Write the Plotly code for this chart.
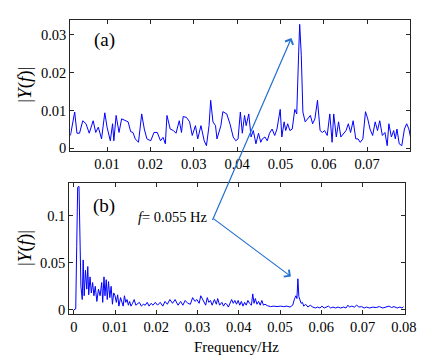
import plotly.graph_objects as go

# ---- data: panel (a) ----
top_freq = [0.00155,0.00253,0.00305,0.00365,0.0044,0.00514,0.00589,0.00679,0.00739,0.00798,
            0.00873,0.00948,0.01,0.01075,0.01127,0.01157,0.01209,0.01276,0.01336,0.01411,
            0.01486,0.01545,0.01598,0.0165,0.01725,0.01799,0.01859,0.01919,0.02008,0.02083,
            0.02158,0.02233,0.02292,0.02345,0.02382,0.02457,0.02531,0.02591,0.02666,0.02718,
            0.02755,0.0283,0.02905,0.02965,0.03039,0.03092,0.03166,0.03241,0.03293,0.03353,
            0.0339,0.03443,0.03502,
            0.03536,0.03626,0.03671,0.03761,0.03835,0.0391,0.0397,0.04022,0.04075,0.0412,
            0.04172,0.04209,0.04269,0.04322,0.04374,0.04434,0.04494,0.04546,0.04583,0.04643,
            0.04696,0.04748,0.04808,0.04868,0.0492,0.04995,0.05032,0.05085,0.05122,0.05167,
            0.05219,0.05272,0.05331,0.05376,0.05421,0.05444,0.05481,0.05518,0.05571,0.05631,
            0.0569,0.05743,0.05795,0.05855,0.05915,0.05967,0.0602,0.06079,0.06139,0.06192,
            0.06229,0.06289,0.06341,0.06394,0.06453,0.06513,0.06566,0.06618,0.06678,0.06738,
            0.0679,0.06842,0.06902,0.06962,0.07014,0.07067,0.07127,0.07186,0.07239,0.07291,
            0.07351,0.07411,0.07463,0.07501,0.0756,0.07613,0.0765,0.07688,0.0774,0.078,
            0.0786,0.07912,0.07964,0.08009]
top_amp = [0.0034,0.0096,0.004,0.004,0.0073,0.0065,0.004,0.0073,0.0042,0.0056,
           0.0025,0.0094,0.0056,0.002,0.0065,0.002,0.0087,0.0042,0.0078,0.0073,
           0.007,0.0044,0.0042,0.0025,0.0016,0.0091,0.0051,0.0025,0.002,0.0042,
           0.0042,0.002,0.0029,0.0012,0.0087,0.0051,0.0047,0.004,0.0073,0.0042,
           0.0084,0.0082,0.007,0.0034,0.006,0.0025,0.006,0.002,0.0007,0.006,
           0.0127,0.007,0.006,
           0.0025,0.006,0.0097,0.0091,0.0065,0.003,0.002,0.0025,0.0096,0.004,
           0.0087,0.006,0.0091,0.003,0.0047,0.0012,0.004,0.0016,0.0025,0.003,
           0.002,0.004,0.0051,0.0034,0.0051,0.0103,0.003,0.007,0.0047,0.0065,
           0.0047,0.0051,0.0103,0.0091,0.0255,0.0328,0.0246,0.0096,0.007,0.0078,
           0.0087,0.0065,0.0078,0.0127,0.0047,0.0042,0.0047,0.0034,0.0091,0.0016,
           0.0091,0.003,0.007,0.003,0.004,0.0047,0.0065,0.0042,0.0073,0.0025,
           0.0025,0.0016,0.0025,0.0097,0.0078,0.0051,0.0034,0.007,0.0047,0.0073,
           0.0034,0.0042,0.0007,0.0065,0.003,0.0047,0.0025,0.0051,0.0012,0.0007,
           0.0051,0.0065,0.0051,0.0025]

# ---- data: panel (b) ----
bot_freq = [0,0.00047,0.00071,0.00094,0.00126,0.0015,0.00173,0.00205,0.00228,0.00252,
            0.00283,0.00315,0.00339,0.00362,0.00394,0.00425,0.00457,0.00488,0.0052,0.00559,
            0.00598,0.00638,0.00677,0.00701,0.00732,0.00756,0.00787,0.00811,0.00842,0.00874,
            0.00905,0.00937,0.00968,0.01,0.01031,0.01063,0.01094,0.01134,0.01165,0.01197,
            0.01228,0.0126,0.01291,0.01323,0.01354,0.01386,0.01425,0.01464,0.01504,0.01543,
            0.0159,0.01638,0.01685,0.01732,0.01779,0.01826,0.01874,0.01921,0.01976,0.02031,
            0.02094,0.02157,0.02212,0.02267,0.0233,0.02393,0.02456,
            0.02527,0.0259,0.02645,0.027,0.02763,0.02826,0.02881,0.02937,0.02984,0.03039,
            0.03078,0.03118,0.03157,0.03196,0.03236,0.03275,0.03314,0.03354,0.03409,0.03456,
            0.03488,0.03535,0.0359,0.03629,0.03669,0.03708,0.03747,0.03787,0.03826,0.03866,
            0.03905,0.03944,0.03984,0.04023,0.04062,0.04102,0.04141,0.0418,0.0422,0.04259,
            0.04306,0.04338,0.04369,0.04401,0.0444,0.04479,0.04519,0.04558,0.04598,0.04637,
            0.04692,0.04771,0.0485,0.04928,0.05007,0.05086,0.05165,
            0.05243,0.05306,0.05353,0.05385,0.05409,0.05432,0.05456,0.05479,0.05511,0.05542,
            0.05574,0.05621,0.05676,0.05731,0.05794,0.05857,0.05912,0.05968,0.06015,0.0607,
            0.06125,0.06172,0.06227,0.06282,0.06345,0.06408,0.06463,0.06542,0.06597,0.06645,
            0.06684,0.06739,0.06802,0.06857,0.06912,0.06975,0.07038,0.07094,0.07172,0.07251,
            0.0733,0.07408,0.07487,0.07566,0.07644,0.077,0.07763,0.07841,0.07904,0.07959,0.0799]
bot_amp = [0.0,0.001,0.067,0.13,0.131,0.084,0.025,0.011,0.053,0.015,
           0.042,0.022,0.046,0.016,0.035,0.018,0.029,0.015,0.025,0.009,
           0.022,0.015,0.029,0.008,0.035,0.015,0.032,0.011,0.030,0.013,
           0.025,0.006,0.018,0.015,0.008,0.016,0.004,0.013,0.009,0.004,
           0.015,0.008,0.011,0.005,0.009,0.004,0.007,0.011,0.005,0.006,
           0.008,0.004,0.006,0.005,0.008,0.004,0.007,0.005,0.008,0.005,
           0.008,0.004,0.009,0.006,0.011,0.007,0.011,
           0.005,0.009,0.005,0.010,0.007,0.006,0.013,0.009,0.011,0.007,
           0.015,0.012,0.009,0.005,0.013,0.008,0.010,0.005,0.011,0.006,
           0.012,0.005,0.008,0.004,0.007,0.006,0.003,0.007,0.011,0.007,
           0.010,0.006,0.010,0.005,0.009,0.004,0.008,0.005,0.010,0.007,
           0.005,0.017,0.007,0.012,0.006,0.009,0.005,0.010,0.005,0.006,
           0.0045,0.0035,0.004,0.0035,0.004,0.0035,0.004,
           0.003,0.005,0.012,0.015,0.012,0.033,0.014,0.010,0.007,0.008,
           0.004,0.006,0.003,0.005,0.003,0.002,0.003,0.002,0.004,0.002,
           0.003,0.004,0.002,0.003,0.002,0.003,0.002,0.003,0.002,0.005,
           0.003,0.004,0.003,0.005,0.003,0.0035,0.002,0.003,0.002,0.003,
           0.0025,0.0035,0.002,0.003,0.004,0.0025,0.0035,0.002,0.003,0.002,0.0035]

top_xticks = [0.01, 0.02, 0.03, 0.04, 0.05, 0.06, 0.07]
top_yticks = [0, 0.01, 0.02, 0.03]
top_ytext = ["0", "0.01", "0.02", "0.03"]
bot_xticks = [0, 0.01, 0.02, 0.03, 0.04, 0.05, 0.06, 0.07, 0.08]
bot_xtext = ["0", "0.01", "0.02", "0.03", "0.04", "0.05", "0.06", "0.07", "0.08"]
bot_yticks = [0, 0.05, 0.1]
bot_ytext = ["0", "0.05", "0.1"]

FONT = "Liberation Serif"
LINE = "#0000ff"
ARROW = "#2270d0"
FRAME = "#262626"

fig = go.Figure()
fig.add_trace(go.Scatter(x=top_freq, y=top_amp, mode="lines",
                         line=dict(color=LINE, width=1), xaxis="x", yaxis="y",
                         showlegend=False, hoverinfo="skip"))
fig.add_trace(go.Scatter(x=bot_freq, y=bot_amp, mode="lines",
                         line=dict(color=LINE, width=1), xaxis="x2", yaxis="y2",
                         showlegend=False, hoverinfo="skip"))

W, H = 431, 363
axis_common = dict(showline=True, linecolor=FRAME, linewidth=1, mirror="allticks",
                   ticks="inside", ticklen=4, tickcolor=FRAME, tickwidth=1,
                   showgrid=False, zeroline=False,
                   tickfont=dict(family=FONT, size=14.5, color="black"))

fig.update_layout(
    width=W, height=H,
    margin=dict(l=0, r=0, t=0, b=0),
    paper_bgcolor="white", plot_bgcolor="white",
    xaxis=dict(domain=[64 / W, 414 / W], range=[0.0015, 0.0800],
               tickvals=top_xticks, ticktext=[str(v) for v in top_xticks],
               anchor="y", **axis_common),
    yaxis=dict(domain=[1 - 145 / H, 1 - 12 / H], range=[-0.0006, 0.0340],
               tickvals=top_yticks, ticktext=top_ytext, anchor="x", **axis_common),
    xaxis2=dict(domain=[63 / W, 408 / W], range=[-0.0011, 0.0802],
                tickvals=bot_xticks, ticktext=bot_xtext, anchor="y2", **axis_common),
    yaxis2=dict(domain=[1 - 311 / H, 1 - 178 / H], range=[-0.0042, 0.1345],
                tickvals=bot_yticks, ticktext=bot_ytext, anchor="x2", **axis_common),
)

anns = []
# y-axis labels
for yc in (1 - 78 / H, 1 - 244 / H):
    anns.append(dict(xref="paper", yref="paper", x=17.5 / W, y=yc, showarrow=False,
                     text="|<i>Y</i>(<i>f</i>)|", textangle=-90,
                     font=dict(family=FONT, size=19, color="black"),
                     xanchor="center", yanchor="middle"))
# x-axis title
anns.append(dict(xref="paper", yref="paper", x=235 / W, y=1 - 345 / H, showarrow=False,
                 text="Frequency/Hz", font=dict(family=FONT, size=15, color="black"),
                 xanchor="center", yanchor="middle"))
# panel labels
anns.append(dict(xref="paper", yref="paper", x=99 / W, y=1 - 33 / H, showarrow=False,
                 text="(a)", font=dict(family=FONT, size=19, color="black"),
                 xanchor="center", yanchor="middle"))
anns.append(dict(xref="paper", yref="paper", x=99 / W, y=1 - 201 / H, showarrow=False,
                 text="(b)", font=dict(family=FONT, size=19, color="black"),
                 xanchor="center", yanchor="middle"))
# f = 0.055 Hz label
anns.append(dict(xref="paper", yref="paper", x=208 / W, y=1 - 213 / H, showarrow=False,
                 text="<i>f</i>= 0.055 Hz", font=dict(family=FONT, size=14.5, color="black"),
                 xanchor="right", yanchor="middle"))
# arrows
tail = (212, 214)
for tip in ((291.5, 30.5), (291, 273)):
    anns.append(dict(xref="paper", yref="paper", x=tip[0] / W, y=1 - tip[1] / H,
                     axref="pixel", ayref="pixel",
                     ax=tail[0] - tip[0], ay=tail[1] - tip[1],
                     text="", showarrow=True, arrowhead=4, arrowsize=1.4,
                     arrowwidth=1.2, arrowcolor=ARROW, standoff=0, startstandoff=0))
fig.update_layout(annotations=anns)

fig.write_html("out.html")
